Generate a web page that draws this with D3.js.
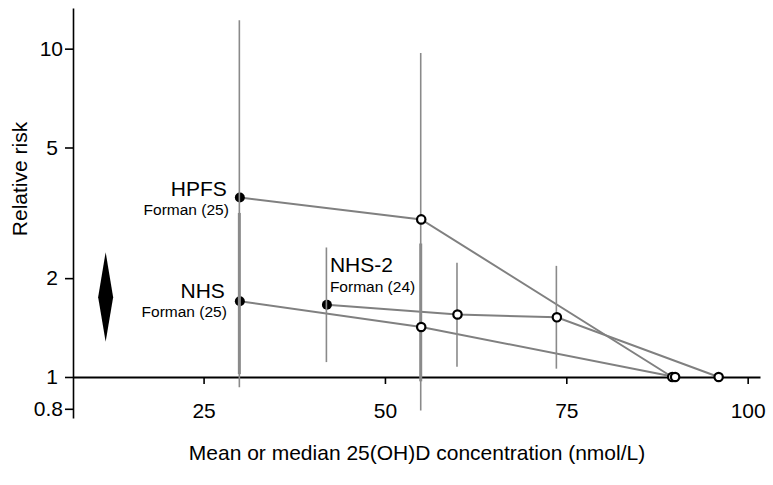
<!DOCTYPE html>
<html>
<head>
<meta charset="utf-8">
<script src="https://cdn.jsdelivr.net/npm/d3@7/dist/d3.min.js"></script>
<style>
  html, body { margin: 0; padding: 0; background: #fff; }
  svg { display: block; font-family: "Liberation Sans", Arial, sans-serif; }
</style>
</head>
<body>
<svg id="chart" width="773" height="485"></svg>
<script>
// ---- data ----
const studyNames = ["HPFS", "NHS", "NHS-2"];
const studyRefs = ["Forman (25)", "Forman (25)", "Forman (24)"];

const hpfsConc = [30, 55, 89.6];
const hpfsRR   = [3.52, 3.02, 1];
const hpfsLo   = [0.93, 0.79, null];
const hpfsHi   = [12.2, 9.7, null];

const nhsConc = [30, 55, 90];
const nhsRR   = [1.70, 1.42, 1];
const nhsLo   = [1.02, 0.97, null];
const nhsHi   = [3.16, 2.55, null];

const nhs2Conc = [42, 60, 73.7, 96];
const nhs2RR   = [1.66, 1.55, 1.52, 1];
const nhs2Lo   = [1.11, 1.075, 1.06, null];
const nhs2Hi   = [2.48, 2.23, 2.18, null];

// pooled estimate (diamond)
const pooledConc = 11.5;
const pooledRR = 1.75;
const pooledLo = 1.28;
const pooledHi = 2.40;

const xTicks = [25, 50, 75, 100];
const yTicks = [0.8, 1, 2, 5, 10];
const yTickLabels = ["0.8", "1", "2", "5", "10"];
const xTitle = "Mean or median 25(OH)D concentration (nmol/L)";
const yTitle = "Relative risk";

// ---- build ----
const series = [
  { name: studyNames[0], ref: studyRefs[0], conc: hpfsConc, rr: hpfsRR, lo: hpfsLo, hi: hpfsHi, barW: 1.6 },
  { name: studyNames[1], ref: studyRefs[1], conc: nhsConc, rr: nhsRR, lo: nhsLo, hi: nhsHi, barW: 3 },
  { name: studyNames[2], ref: studyRefs[2], conc: nhs2Conc, rr: nhs2RR, lo: nhs2Lo, hi: nhs2Hi, barW: 1.6 }
];

const svg = d3.select("#chart");
const x = d3.scaleLinear().domain([7, 101.7]).range([73, 760]);
const y = d3.scaleLog().domain([0.75, 13.3]).range([418, 8]);

const FONT = 21;

// y axis
const yAxis = svg.append("g")
  .attr("transform", `translate(${x(7)},0)`)
  .call(d3.axisLeft(y).tickValues(yTicks)
    .tickFormat((d, i) => yTickLabels[i])
    .tickSize(8).tickSizeOuter(0).tickPadding(2));
yAxis.select(".domain").attr("stroke", "#000").attr("stroke-width", 1.6);
yAxis.selectAll(".tick line").attr("stroke", "#000").attr("stroke-width", 1.6);
yAxis.selectAll(".tick text")
  .attr("font-size", FONT).attr("font-family", "Liberation Sans, Arial, sans-serif")
  .attr("fill", "#000")
  .attr("dx", (d, i) => yTickLabels[i].length === 1 ? -5 : 0);

// x axis at RR = 1
const xAxis = svg.append("g")
  .attr("transform", `translate(0,${y(1)})`)
  .call(d3.axisBottom(x).tickValues(xTicks)
    .tickSize(7).tickSizeOuter(0).tickPadding(19));
xAxis.select(".domain").attr("stroke", "#000").attr("stroke-width", 1.8);
xAxis.selectAll(".tick line").attr("stroke", "#000").attr("stroke-width", 1.6);
xAxis.selectAll(".tick text")
  .attr("font-size", FONT).attr("font-family", "Liberation Sans, Arial, sans-serif")
  .attr("fill", "#000");

// connecting lines
const line = d3.line().x(d => x(d[0])).y(d => y(d[1]));
series.forEach(s => {
  svg.append("path")
    .attr("d", line(s.conc.map((c, i) => [c, s.rr[i]])))
    .attr("fill", "none").attr("stroke", "#808080").attr("stroke-width", 2);
});

// filled (reference) markers
series.forEach(s => {
  svg.append("circle")
    .attr("cx", x(s.conc[0])).attr("cy", y(s.rr[0])).attr("r", 5)
    .attr("fill", "#000");
});

// CI bars
series.forEach(s => {
  s.conc.forEach((c, i) => {
    if (s.lo[i] == null) return;
    svg.append("line")
      .attr("x1", x(c) - 0.5).attr("x2", x(c) - 0.5)
      .attr("y1", y(s.hi[i])).attr("y2", y(s.lo[i]))
      .attr("stroke", "#8a8a8a").attr("stroke-width", s.barW);
  });
});

// open markers
series.forEach(s => {
  s.conc.forEach((c, i) => {
    if (i === 0) return;
    svg.append("circle")
      .attr("cx", x(c)).attr("cy", y(s.rr[i])).attr("r", 4.2)
      .attr("fill", "#fff").attr("stroke", "#000").attr("stroke-width", 2.2);
  });
});

// pooled diamond
const dx = 7.5;
svg.append("path")
  .attr("d", `M${x(pooledConc)},${y(pooledHi)} L${x(pooledConc) + dx},${y(pooledRR)} L${x(pooledConc)},${y(pooledLo)} L${x(pooledConc) - dx},${y(pooledRR)} Z`)
  .attr("fill", "#000");

// study labels
const lab = svg.append("g").attr("fill", "#000");
const s0 = series[0], s1 = series[1], s2 = series[2];
lab.append("text").attr("x", x(s0.conc[0]) - 13).attr("y", y(s0.rr[0]) - 2)
  .attr("text-anchor", "end").attr("font-size", 21).text(s0.name);
lab.append("text").attr("x", x(s0.conc[0]) - 11).attr("y", y(s0.rr[0]) + 17)
  .attr("text-anchor", "end").attr("font-size", 15.5).text(s0.ref);
lab.append("text").attr("x", x(s1.conc[0]) - 15).attr("y", y(s1.rr[0]) - 3)
  .attr("text-anchor", "end").attr("font-size", 21).text(s1.name);
lab.append("text").attr("x", x(s1.conc[0]) - 13).attr("y", y(s1.rr[0]) + 16)
  .attr("text-anchor", "end").attr("font-size", 15.5).text(s1.ref);
lab.append("text").attr("x", x(s2.conc[0]) + 3).attr("y", y(s2.rr[0]) - 33)
  .attr("text-anchor", "start").attr("font-size", 21).text(s2.name);
lab.append("text").attr("x", x(s2.conc[0]) + 3).attr("y", y(s2.rr[0]) - 13)
  .attr("text-anchor", "start").attr("font-size", 15.5).text(s2.ref);

// axis titles
svg.append("text").attr("x", 417).attr("y", 460)
  .attr("text-anchor", "middle").attr("font-size", FONT).text(xTitle);
svg.append("text")
  .attr("transform", `translate(27,179) rotate(-90)`)
  .attr("text-anchor", "middle").attr("font-size", FONT).text(yTitle);
</script>
</body>
</html>
